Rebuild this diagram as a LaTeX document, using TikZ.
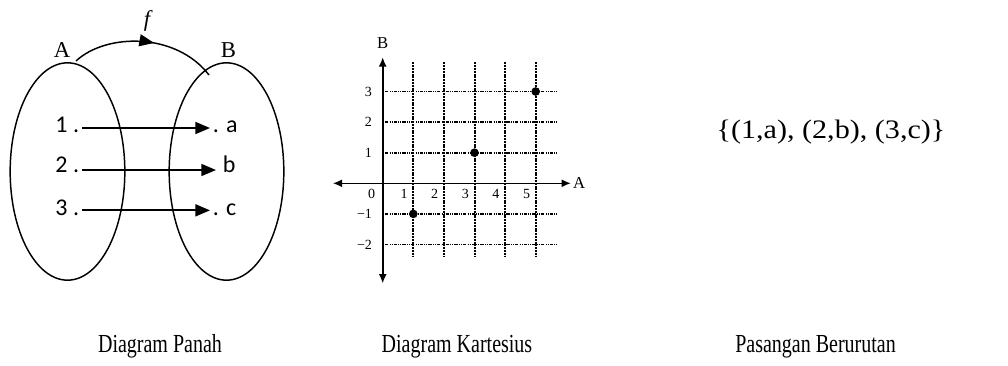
\documentclass[tikz,border=0pt]{standalone}
\usepackage{fontspec}
\setmainfont{Liberation Serif}
\newfontfamily\carlito{Carlito}
\usetikzlibrary{shapes.geometric, arrows.meta, positioning, decorations.markings}

\begin{document}
\begin{tikzpicture}[
		x=0.75pt, y=-0.75pt,
		himpunan/.style={ellipse, draw, line width=1.1pt, minimum width=86pt, minimum height=163pt},
		elemen/.style={inner sep=2pt, font=\fontsize{18}{20}\selectfont\carlito},
		huruf/.style={inner sep=0pt, font=\fontsize{17}{20}\selectfont},
		panah/.style={-{Triangle[length=11pt, width=9pt]}, line width=1.3pt},
		busur/.style={line width=1.1pt, postaction={decorate},
			decoration={markings, mark=at position 0.56 with {\arrow{Triangle[length=11pt, width=9pt]}}}},
		sumbu/.style={{Latex[length=7pt, width=6pt]}-{Latex[length=7pt, width=6pt]}, line width=1.2pt},
		garisH/.style={line width=1.3pt, dash pattern=on 2.5pt off 0.8pt on 0.8pt off 0.8pt on 0.8pt off 0.8pt},
		garisV/.style={line width=1.5pt, dash pattern=on 1.5pt off 0.6pt},
		titik/.style={circle, fill, inner sep=0pt, minimum size=6.5pt},
		angka/.style={inner sep=1pt, font=\fontsize{10.5}{12}\selectfont},
		judul/.style={anchor=base, inner sep=0pt, font=\fontsize{15}{18}\selectfont}
	]

	% 0. Latar dan batas gambar
	\useasboundingbox[fill=white] (0,0) rectangle (1008,365);

	% 1. Diagram Panah: dua himpunan
	\node[himpunan] (setA) at (67.5,171.5) {};
	\node[himpunan] (setB) at (226.5,171.5) {};
	\node[huruf] (labelA) at (62,50.5) {A};
	\node[huruf] (labelB) at (228.5,50.5) {B};
	\node[huruf, font=\fontsize{17}{20}\selectfont\itshape] (labelF) at (147,21) {f};

	% Busur fungsi f dari A ke B
	\coordinate (fAwal) at (76,61);
	\coordinate (fAkhir) at (209,75);
	\draw[busur] (fAwal) .. controls (106,33) and (176,32) .. (fAkhir);

	% Anggota himpunan
	\node[elemen, anchor=base east] (a1) at (82,132) {1 .};
	\node[elemen, anchor=base east] (a2) at (82,172) {2 .};
	\node[elemen, anchor=base east] (a3) at (82,215) {3 .};
	\node[elemen, anchor=base west] (b1) at (210,132) {. a};
	\node[elemen, anchor=base west, inner xsep=5pt] (b2) at (216,172) {b};
	\node[elemen, anchor=base west] (b3) at (210,215) {. c};

	% 2. Panah antar anggota
	\draw[panah] ([yshift=3pt]a1.base east) -- ([yshift=3pt]b1.base west);
	\draw[panah] ([yshift=1.5pt]a2.base east) -- ([yshift=1.5pt]b2.base west);
	\draw[panah] ([yshift=3.5pt]a3.base east) -- ([yshift=3.5pt]b3.base west);

	% 3. Diagram Kartesius
	\begin{scope}[shift={(382.7,183.3)}, x=22.95pt, y=22.95pt]
		\foreach \j in {-2,-1,1,2,3}
			\draw[garisH] (0.08,\j) -- (5.7,\j);
		\foreach \i in {1,...,5}
			\draw[garisV] (\i,3.95) -- (\i,-2.4);
		\draw[sumbu] (-1.63,0) -- (6.15,0);
		\draw[sumbu] (0,-3.27) -- (0,4.12);
		\node[angka, font=\fontsize{12.5}{14}\selectfont] (sumbuA) at (6.42,0) {A};
		\node[angka, font=\fontsize{12.5}{14}\selectfont] (sumbuB) at (0,4.58) {B};
		\node[angka] (tx0) at (-0.36,-0.34) {0};
		\foreach \i in {1,...,5}
			\node[angka] (tx\i) at (\i-0.3,-0.34) {\i};
		\foreach \j/\nm in {3/3, 2/2, 1/1, -1/m1, -2/m2}
			\node[angka, anchor=east] (ty\nm) at (-0.3,\j) {\ifnum\j<0 −\the\numexpr-\j\relax\else\j\fi};
		\node[titik] (p1) at (1,-1) {};
		\node[titik] (p2) at (3,1) {};
		\node[titik] (p3) at (5,3) {};
	\end{scope}

	% 4. Pasangan Berurutan
	\node[anchor=base, inner sep=0pt, font=\fontsize{20}{24}\selectfont] (pasangan) at (831,138)
		{\scalebox{1.13}[1]{\{(1,a), (2,b), (3,c)\}}};

	% 5. Keterangan di bawah
	\node[judul] (jPanah) at (160,352) {\scalebox{1}[1.3]{Diagram Panah}};
	\node[judul] (jKartesius) at (457,352) {\scalebox{1}[1.3]{Diagram Kartesius}};
	\node[judul] (jPasangan) at (815.5,352) {\scalebox{1}[1.3]{Pasangan Berurutan}};

\end{tikzpicture}
\end{document}
